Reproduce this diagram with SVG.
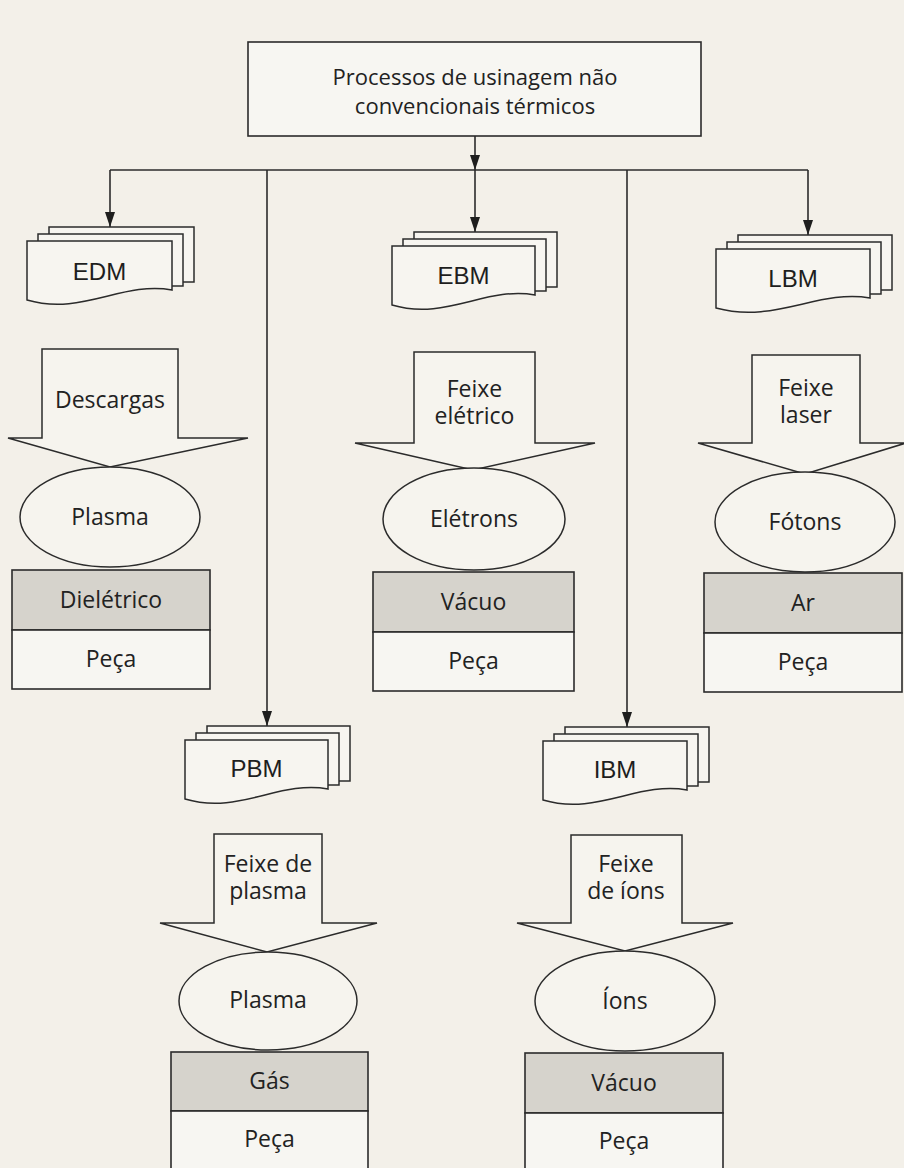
<svg xmlns="http://www.w3.org/2000/svg" width="904" height="1168" viewBox="0 0 904 1168">
<style>
.bg{fill:#f3f0e9}
.sh{fill:#f6f4ee;stroke:#2b2b2b;stroke-width:1.5}
.page{fill:#f7f5f0;stroke:#2b2b2b;stroke-width:1.5}
.gray{fill:#d6d3cc;stroke:#2b2b2b;stroke-width:1.6}
.white{fill:#f7f6f2;stroke:#2b2b2b;stroke-width:1.6}
.ln{fill:none;stroke:#2b2b2b;stroke-width:1.6}
.t{font-family:"Open Sans","Noto Sans",sans-serif;font-size:23px;fill:#222;text-anchor:middle}
.h{font-family:"Open Sans","Noto Sans",sans-serif;font-size:22px;fill:#222;text-anchor:middle}
.a{font-family:"Liberation Sans",Arial,sans-serif;font-size:24px;fill:#1e1e1e;text-anchor:middle}
</style>
<defs>
<marker id="arr" markerUnits="userSpaceOnUse" markerWidth="16" markerHeight="10" refX="15" refY="5" orient="auto" viewBox="0 0 16 10">
<path d="M0,0 L15,5 L0,10 Z" fill="#1e1e1e"/>
</marker>
</defs>
<rect class="bg" x="0" y="0" width="904" height="1168"/>

<g id="connectors">
<line class="ln" x1="475" y1="136" x2="475" y2="170" marker-end="url(#arr)"/>
<line class="ln" x1="110" y1="170" x2="808" y2="170"/>
<line class="ln" x1="110" y1="170" x2="110" y2="227" marker-end="url(#arr)"/>
<line class="ln" x1="475" y1="170" x2="475" y2="232" marker-end="url(#arr)"/>
<line class="ln" x1="808" y1="170" x2="808" y2="235" marker-end="url(#arr)"/>
<line class="ln" x1="267" y1="170" x2="267" y2="726" marker-end="url(#arr)" stroke-width="1.2"/>
<line class="ln" x1="627" y1="170" x2="627" y2="727" marker-end="url(#arr)" stroke-width="1.2"/>
</g>

<g id="root">
<rect class="white" x="248" y="42" width="453" height="94"/>
<text class="h" x="475" y="85">Processos de usinagem não</text>
<text class="h" x="475" y="114">convencionais térmicos</text>
</g>

<!-- EDM column -->
<g id="edm">
<rect class="page" x="49" y="227" width="145" height="55"/>
<rect class="page" x="38" y="234" width="145" height="52"/>
<path class="page" d="M27,241 H172 V290 C122,281 82,316 27,300 Z"/>
<text class="a" x="99.5" y="280">EDM</text>
</g>
<g id="edm-arrow">
<path class="sh" d="M8,438 H42 V349 H178 V438 H248 L110,467 Z"/>
<text class="t" x="110" y="408">Descargas</text>
</g>
<g id="edm-medium">
<ellipse class="sh" cx="110" cy="517" rx="90" ry="50"/>
<text class="t" x="110" y="525">Plasma</text>
</g>
<g id="edm-stack">
<rect class="gray" x="12" y="570" width="198" height="60"/>
<rect class="white" x="12" y="630" width="198" height="59"/>
<text class="t" x="111" y="608">Dielétrico</text>
<text class="t" x="111" y="667">Peça</text>
</g>

<!-- EBM column -->
<g id="ebm">
<rect class="page" x="414" y="232" width="143" height="55"/>
<rect class="page" x="403" y="239" width="143" height="52"/>
<path class="page" d="M392,246 H535 V295 C486,286 446,321 392,305 Z"/>
<text class="a" x="463.5" y="284">EBM</text>
</g>
<g id="ebm-arrow">
<path class="sh" d="M355,443 H414 V352 H535 V443 H595 L473,470 Z"/>
<text class="t" x="474.5" y="397">Feixe</text>
<text class="t" x="474.5" y="424">elétrico</text>
</g>
<g id="ebm-medium">
<ellipse class="sh" cx="474" cy="519" rx="91" ry="51"/>
<text class="t" x="474" y="527">Elétrons</text>
</g>
<g id="ebm-stack">
<rect class="gray" x="373" y="572" width="201" height="60"/>
<rect class="white" x="373" y="632" width="201" height="59"/>
<text class="t" x="473.5" y="610">Vácuo</text>
<text class="t" x="473.5" y="669">Peça</text>
</g>

<!-- LBM column -->
<g id="lbm">
<rect class="page" x="738" y="235" width="154" height="55"/>
<rect class="page" x="727" y="242" width="154" height="52"/>
<path class="page" d="M716,249 H870 V298 C818,289 775,324 716,308 Z"/>
<text class="a" x="793" y="287">LBM</text>
</g>
<g id="lbm-arrow">
<path class="sh" d="M698,443 H752 V355 H860 V443 H906 L805,474 Z"/>
<text class="t" x="806" y="396">Feixe</text>
<text class="t" x="806" y="423">laser</text>
</g>
<g id="lbm-medium">
<ellipse class="sh" cx="805" cy="522" rx="90" ry="50"/>
<text class="t" x="805" y="530">Fótons</text>
</g>
<g id="lbm-stack">
<rect class="gray" x="704" y="573" width="198" height="60"/>
<rect class="white" x="704" y="633" width="198" height="59"/>
<text class="t" x="803" y="611">Ar</text>
<text class="t" x="803" y="670">Peça</text>
</g>

<!-- PBM column -->
<g id="pbm">
<rect class="page" x="207" y="726" width="143" height="55"/>
<rect class="page" x="196" y="733" width="143" height="52"/>
<path class="page" d="M185,740 H328 V789 C279,780 239,815 185,799 Z"/>
<text class="a" x="256.5" y="777">PBM</text>
</g>
<g id="pbm-arrow">
<path class="sh" d="M160,923 H214 V834 H322 V923 H377 L267,952 Z"/>
<text class="t" x="268" y="872">Feixe de</text>
<text class="t" x="268" y="899">plasma</text>
</g>
<g id="pbm-medium">
<ellipse class="sh" cx="268" cy="1001" rx="89" ry="49"/>
<text class="t" x="268" y="1008">Plasma</text>
</g>
<g id="pbm-stack">
<rect class="gray" x="171" y="1052" width="197" height="59"/>
<rect class="white" x="171" y="1111" width="197" height="59"/>
<text class="t" x="269.5" y="1089">Gás</text>
<text class="t" x="269.5" y="1147">Peça</text>
</g>

<!-- IBM column -->
<g id="ibm">
<rect class="page" x="565" y="727" width="144" height="55"/>
<rect class="page" x="554" y="734" width="144" height="52"/>
<path class="page" d="M543,741 H687 V790 C638,781 597,816 543,800 Z"/>
<text class="a" x="615" y="778">IBM</text>
</g>
<g id="ibm-arrow">
<path class="sh" d="M517,923 H571 V835 H682 V923 H733 L625,951 Z"/>
<text class="t" x="626" y="872">Feixe</text>
<text class="t" x="626" y="899">de íons</text>
</g>
<g id="ibm-medium">
<ellipse class="sh" cx="625" cy="1001" rx="90" ry="50"/>
<text class="t" x="625" y="1009">Íons</text>
</g>
<g id="ibm-stack">
<rect class="gray" x="525" y="1053" width="198" height="60"/>
<rect class="white" x="525" y="1113" width="198" height="59"/>
<text class="t" x="624" y="1091">Vácuo</text>
<text class="t" x="624" y="1149">Peça</text>
</g>
</svg>
